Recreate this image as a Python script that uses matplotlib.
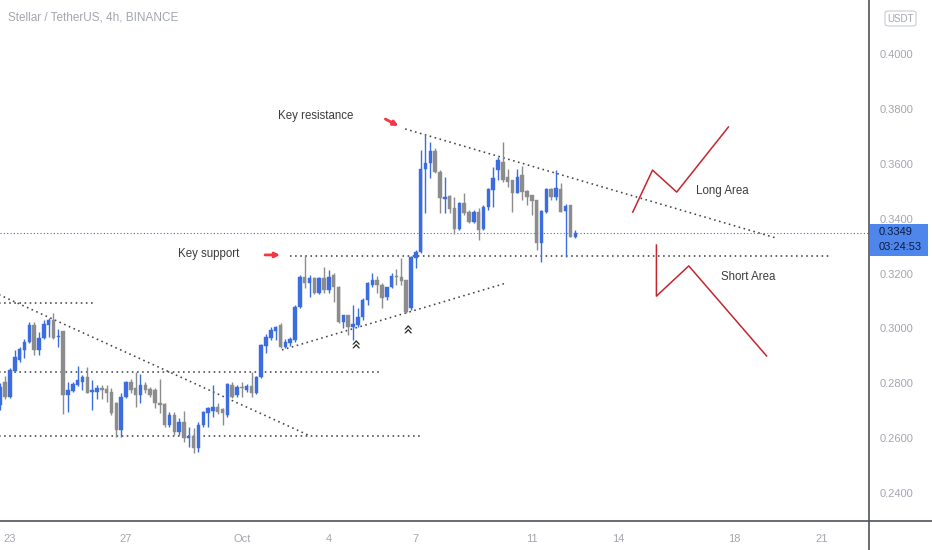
import matplotlib
matplotlib.use("Agg")
import matplotlib.pyplot as plt
import numpy as np
import pandas as pd
from matplotlib.patches import Rectangle, FancyBboxPatch
from matplotlib.lines import Line2D

plt.rcParams['font.family'] = ['Liberation Sans', 'DejaVu Sans']

# ---------------- data (XLM/USDT 4h candles) ----------------
START = pd.Timestamp("2021-09-22 16:00")

opens = [0.2721, 0.2805, 0.2750, 0.2845, 0.2885, 0.2922, 0.2951, 0.3013, 0.2922, 0.2965,
         0.3013, 0.3031, 0.2969, 0.2991, 0.2758, 0.2772, 0.2794, 0.2805, 0.2823, 0.2769,
         0.2769, 0.2783, 0.2780, 0.2769, 0.2729, 0.2630, 0.2750, 0.2805, 0.2783, 0.2758,
         0.2794, 0.2780, 0.2776, 0.2729, 0.2725, 0.2648, 0.2685, 0.2623, 0.2659, 0.2601,
         0.2608, 0.2565, 0.2648, 0.2692, 0.2699, 0.2714, 0.2707, 0.2685, 0.2794, 0.2758,
         0.2787, 0.2776, 0.2790, 0.2765, 0.2823, 0.2936, 0.2965, 0.2991, 0.3013, 0.2933,
         0.2947, 0.2958, 0.3078, 0.3188, 0.3166, 0.3184, 0.3129, 0.3184, 0.3140, 0.3195,
         0.3151, 0.3024, 0.3049, 0.3005, 0.3013, 0.3042, 0.3104, 0.3158, 0.3177, 0.3158,
         0.3115, 0.3151, 0.3191, 0.3188, 0.3177, 0.3075, 0.3257, 0.3279, 0.3581, 0.3603,
         0.3647, 0.3570, 0.3472, 0.3483, 0.3439, 0.3362, 0.3457, 0.3424, 0.3388, 0.3424,
         0.3362, 0.3443, 0.3505, 0.3577, 0.3607, 0.3552, 0.3541, 0.3494, 0.3559, 0.3501,
         0.3486, 0.3468, 0.3312, 0.3424, 0.3508, 0.3479, 0.3508, 0.3428, 0.3450, 0.3333]
highs = [0.2801, 0.2827, 0.2856, 0.2922, 0.2933, 0.2962, 0.3024, 0.3024, 0.2987, 0.3031,
         0.3038, 0.3056, 0.2998, 0.2992, 0.2805, 0.2805, 0.2863, 0.2831, 0.2860, 0.2812,
         0.2794, 0.2794, 0.2794, 0.2783, 0.2732, 0.2765, 0.2809, 0.2816, 0.2842, 0.2834,
         0.2805, 0.2787, 0.2783, 0.2816, 0.2729, 0.2696, 0.2696, 0.2674, 0.2699, 0.2641,
         0.2637, 0.2659, 0.2699, 0.2714, 0.2794, 0.2729, 0.2710, 0.2801, 0.2805, 0.2794,
         0.2805, 0.2798, 0.2842, 0.2827, 0.2944, 0.2980, 0.3005, 0.3009, 0.3020, 0.2962,
         0.2969, 0.3086, 0.3195, 0.3268, 0.3195, 0.3188, 0.3188, 0.3224, 0.3213, 0.3202,
         0.3155, 0.3049, 0.3049, 0.3086, 0.3075, 0.3111, 0.3170, 0.3202, 0.3191, 0.3166,
         0.3151, 0.3202, 0.3217, 0.3257, 0.3177, 0.3264, 0.3286, 0.3650, 0.3705, 0.3679,
         0.3658, 0.3577, 0.3552, 0.3486, 0.3479, 0.3461, 0.3494, 0.3432, 0.3432, 0.3439,
         0.3450, 0.3512, 0.3588, 0.3625, 0.3679, 0.3581, 0.3541, 0.3581, 0.3592, 0.3505,
         0.3486, 0.3468, 0.3432, 0.3512, 0.3512, 0.3577, 0.3530, 0.3453, 0.3450, 0.3359]
lows = [0.2703, 0.2743, 0.2747, 0.2842, 0.2878, 0.2893, 0.2947, 0.2903, 0.2903, 0.2962,
        0.2969, 0.2962, 0.2933, 0.2689, 0.2696, 0.2769, 0.2790, 0.2776, 0.2765, 0.2703,
        0.2743, 0.2743, 0.2732, 0.2685, 0.2605, 0.2605, 0.2747, 0.2765, 0.2714, 0.2729,
        0.2765, 0.2750, 0.2710, 0.2692, 0.2641, 0.2641, 0.2612, 0.2612, 0.2587, 0.2568,
        0.2546, 0.2550, 0.2641, 0.2641, 0.2678, 0.2689, 0.2648, 0.2678, 0.2747, 0.2750,
        0.2750, 0.2769, 0.2750, 0.2761, 0.2820, 0.2911, 0.2958, 0.2958, 0.2929, 0.2929,
        0.2936, 0.2951, 0.3075, 0.3148, 0.3115, 0.3126, 0.3126, 0.3129, 0.3129, 0.3097,
        0.3020, 0.3002, 0.2976, 0.2958, 0.3005, 0.3031, 0.3086, 0.3151, 0.3129, 0.3075,
        0.3104, 0.3148, 0.3158, 0.3158, 0.3056, 0.3067, 0.3220, 0.3275, 0.3421, 0.3548,
        0.3566, 0.3421, 0.3421, 0.3421, 0.3344, 0.3359, 0.3413, 0.3384, 0.3384, 0.3322,
        0.3359, 0.3432, 0.3443, 0.3541, 0.3534, 0.3515, 0.3424, 0.3494, 0.3468, 0.3450,
        0.3413, 0.3286, 0.3242, 0.3421, 0.3468, 0.3468, 0.3424, 0.3260, 0.3333, 0.3330]
closes = [0.2787, 0.2750, 0.2849, 0.2896, 0.2925, 0.2951, 0.3013, 0.2922, 0.2965, 0.3016,
          0.3031, 0.2965, 0.2973, 0.2758, 0.2776, 0.2798, 0.2812, 0.2823, 0.2765, 0.2776,
          0.2783, 0.2776, 0.2765, 0.2692, 0.2630, 0.2750, 0.2805, 0.2776, 0.2758, 0.2794,
          0.2776, 0.2758, 0.2729, 0.2721, 0.2648, 0.2685, 0.2623, 0.2659, 0.2601, 0.2608,
          0.2565, 0.2648, 0.2696, 0.2710, 0.2714, 0.2696, 0.2692, 0.2798, 0.2750, 0.2787,
          0.2783, 0.2790, 0.2765, 0.2823, 0.2940, 0.2969, 0.2995, 0.3005, 0.2933, 0.2951,
          0.2962, 0.3078, 0.3188, 0.3166, 0.3184, 0.3129, 0.3184, 0.3140, 0.3188, 0.3151,
          0.3024, 0.3049, 0.3005, 0.3016, 0.3042, 0.3104, 0.3166, 0.3177, 0.3158, 0.3111,
          0.3151, 0.3191, 0.3188, 0.3173, 0.3060, 0.3260, 0.3279, 0.3581, 0.3603, 0.3647,
          0.3570, 0.3475, 0.3479, 0.3435, 0.3362, 0.3457, 0.3421, 0.3388, 0.3424, 0.3359,
          0.3443, 0.3508, 0.3548, 0.3614, 0.3541, 0.3534, 0.3494, 0.3552, 0.3497, 0.3479,
          0.3465, 0.3312, 0.3428, 0.3508, 0.3479, 0.3512, 0.3424, 0.3446, 0.3333, 0.3349]

price_ticks = [0.24, 0.26, 0.28, 0.30, 0.32, 0.34, 0.36, 0.38, 0.40]
date_ticks = ["2021-09-23", "2021-09-27", "2021-10-01", "2021-10-04", "2021-10-07",
              "2021-10-11", "2021-10-14", "2021-10-18", "2021-10-21"]
date_labels = ["23", "27", "Oct", "4", "7", "11", "14", "18", "21"]

# drawn annotation lines: (bar offset, price) endpoints
dotted_lines = [
    ([-1, 19.6], [0.3093, 0.3093]),
    ([-1, 79.1], [0.2842, 0.2842]),
    ([-1, 87.1], [0.2608, 0.2608]),
    ([-1, 64.2], [0.3129, 0.2608]),
    ([60.0, 171.5], [0.3264, 0.3264]),
    ([58.3, 104.8], [0.2922, 0.3166]),
    ([83.8, 160.5], [0.3727, 0.3330]),
]
long_path_x = [130.9, 135.0, 140.0, 150.7]
long_path_y = [0.3424, 0.3577, 0.3497, 0.3734]
short_path_x = [135.8, 135.8, 142.5, 158.6]
short_path_y = [0.3304, 0.3118, 0.3228, 0.2900]

# ---------------- figure ----------------
W, H = 932, 550
fig = plt.figure(figsize=(W / 100, H / 100), dpi=100)
fig.patch.set_facecolor("white")
ax = fig.add_axes([0, 29 / H, 868.5 / W, 1 - 29 / H])
ax.set_facecolor("white")

o = np.array(opens); h = np.array(highs); l = np.array(lows); c = np.array(closes)
x = np.arange(len(o))
up = c >= o
BLUE = "#3b6de0"
GREY = "#8c8c8c"
cols = np.where(up, BLUE, GREY)

ax.vlines(x, l, h, colors=cols, linewidth=1.0, zorder=3)
body_bottom = np.minimum(o, c)
body_h = np.maximum(np.abs(c - o), 0.0004)
ax.bar(x, body_h, bottom=body_bottom, width=0.72, color=cols, edgecolor=cols,
       linewidth=0.3, zorder=4)

# trend / level lines
for xs, ys in dotted_lines:
    ax.plot(xs, ys, color="#444444", linewidth=1.15, linestyle=(0, (1, 2.2)), zorder=2)

# last price line
ax.axhline(closes[-1], color="#2f6fe8", linewidth=0.8, linestyle=(0, (1, 2)), zorder=2)

# long / short scenario paths
ax.plot(long_path_x, long_path_y, color="#c4262e", linewidth=1.1, zorder=5)
ax.plot(short_path_x, short_path_y, color="#c4262e", linewidth=1.1, zorder=5)

# arrows
ax.annotate("", xy=(82.4, 0.3738), xytext=(79.7, 0.3763),
            arrowprops=dict(arrowstyle="-|>", color="#f23645", lw=2.0, mutation_scale=7,
                            shrinkA=0, shrinkB=0))
ax.annotate("", xy=(57.9, 0.3268), xytext=(54.8, 0.3268),
            arrowprops=dict(arrowstyle="-|>", color="#f23645", lw=2.0, mutation_scale=7,
                            shrinkA=0, shrinkB=0))

TXT = "#3c3c3c"
ax.text(65.3, 0.3774, "Key resistance", color=TXT, fontsize=8.3, ha="center", va="center")
ax.text(43.1, 0.3271, "Key support", color=TXT, fontsize=8.3, ha="center", va="center")
ax.text(149.5, 0.3501, "Long Area", color=TXT, fontsize=8.3, ha="center", va="center")
ax.text(154.8, 0.3188, "Short Area", color=TXT, fontsize=8.3, ha="center", va="center")

# double chevrons
for cx, cy in [(73.1, 0.2940), (83.8, 0.2995)]:
    ax.text(cx, cy, "«", color="#222222", fontsize=13, rotation=-90,
            ha="center", va="center", family="DejaVu Sans")

# axes limits
ax.set_xlim(-0.07, 179.7)
ax.set_ylim(0.22987, 0.41967)

for s in ax.spines.values():
    s.set_visible(False)

# x ticks
tick_pos = [(pd.Timestamp(d) - START) / pd.Timedelta(hours=4) for d in date_ticks]
ax.set_xticks(tick_pos)
ax.set_xticklabels(date_labels)
ax.tick_params(axis="x", length=0, pad=9, labelsize=8, labelcolor="#a3a6ae")

# y ticks on right
ax.yaxis.tick_right()
ax.set_yticks(price_ticks)
ax.set_yticklabels([f"{p:.4f}" for p in price_ticks])
ax.tick_params(axis="y", length=0, pad=8, labelsize=8, labelcolor="#a3a6ae")
for lab in ax.get_yticklabels():
    lab.set_horizontalalignment("left")

# frame lines (figure-level)
fig.add_artist(Line2D([0, 1], [1 - 521 / H, 1 - 521 / H], transform=fig.transFigure,
                      color="#50535e", linewidth=1.2))
fig.add_artist(Line2D([868.5 / W, 868.5 / W], [0, 1], transform=fig.transFigure,
                      color="#50535e", linewidth=1.2))

# title
fig.text(8 / W, 1 - 17 / H, "Stellar / TetherUS, 4h, BINANCE", color="#a3a6ae",
         fontsize=8.5, ha="left", va="center")

# USDT box
fig.add_artist(FancyBboxPatch((885 / W, 1 - 26 / H), 31 / W, 15 / H,
                              boxstyle="round,pad=0,rounding_size=0.004",
                              transform=fig.transFigure, facecolor="white",
                              edgecolor="#c9cbd1", linewidth=0.8))
fig.text(900.5 / W, 1 - 18.5 / H, "USDT", color="#a3a6ae", fontsize=7,
         ha="center", va="center")

# last price label box
fig.add_artist(Rectangle((869.5 / W, 1 - 256 / H), 58 / W, 32 / H,
                         transform=fig.transFigure, facecolor="#4f86ec",
                         edgecolor="none"))
fig.text(879 / W, 1 - 232 / H, f"{closes[-1]:.4f}", color="#0d1b3a", fontsize=8,
         ha="left", va="center")
fig.text(879 / W, 1 - 247 / H, "03:24:53", color="#0d1b3a", fontsize=8,
         ha="left", va="center")

fig.savefig("out.png", dpi=100, facecolor="white")
